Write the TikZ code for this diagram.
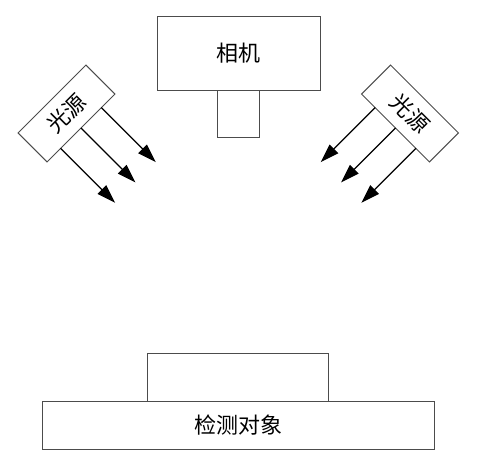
\documentclass[tikz,border=0pt]{standalone}
\usepackage{fontspec}
\newfontfamily\cjk{Noto Sans CJK SC}
\usetikzlibrary{positioning,calc,arrows.meta}

\tikzset{
  box/.style={draw=black!70, line width=0.75pt, inner sep=0pt, outer sep=0pt, font=\cjk\fontsize{16.5}{19}\selectfont},
  ray/.style={draw=black, line width=1pt, -{Triangle[length=14pt,width=9pt]}},
}

\begin{document}
\begin{tikzpicture}[x=0.75pt,y=0.75pt]
	\useasboundingbox (0,0) rectangle (479,462);
	
	\node[box, minimum width=122.25pt, minimum height=55.5pt] (cam) at (238.5,409) {相机};
	\node[box, minimum width=31.5pt, minimum height=35.25pt, below=0pt of cam] (lens) {};
	
	\node[box, minimum width=72pt, minimum height=30.75pt, rotate=45] (lightL) at (66.5,348.5) {光源};
	\node[box, minimum width=72pt, minimum height=30.75pt, rotate=-45] (lightR) at (410,348.5) {光源};
	
	\node[box, minimum width=294pt, minimum height=36pt] (obj) at (238,37) {检测对象};
	\node[box, minimum width=135.75pt, minimum height=36pt, above=0pt of obj] (stage) {};
	
	\foreach \t [count=\i] in {0.2,0.5,0.8} {
		\coordinate (lsrc\i) at ($(lightL.south west)!\t!(lightL.south east)$);
		\coordinate (ltip\i) at ($(lsrc\i)+(-45:77)$);
		\draw[ray] (lsrc\i) -- (ltip\i);
		\coordinate (rsrc\i) at ($(lightR.south west)!\t!(lightR.south east)$);
		\coordinate (rtip\i) at ($(rsrc\i)+(-135:77)$);
		\draw[ray] (rsrc\i) -- (rtip\i);
	}
\end{tikzpicture}
\end{document}
